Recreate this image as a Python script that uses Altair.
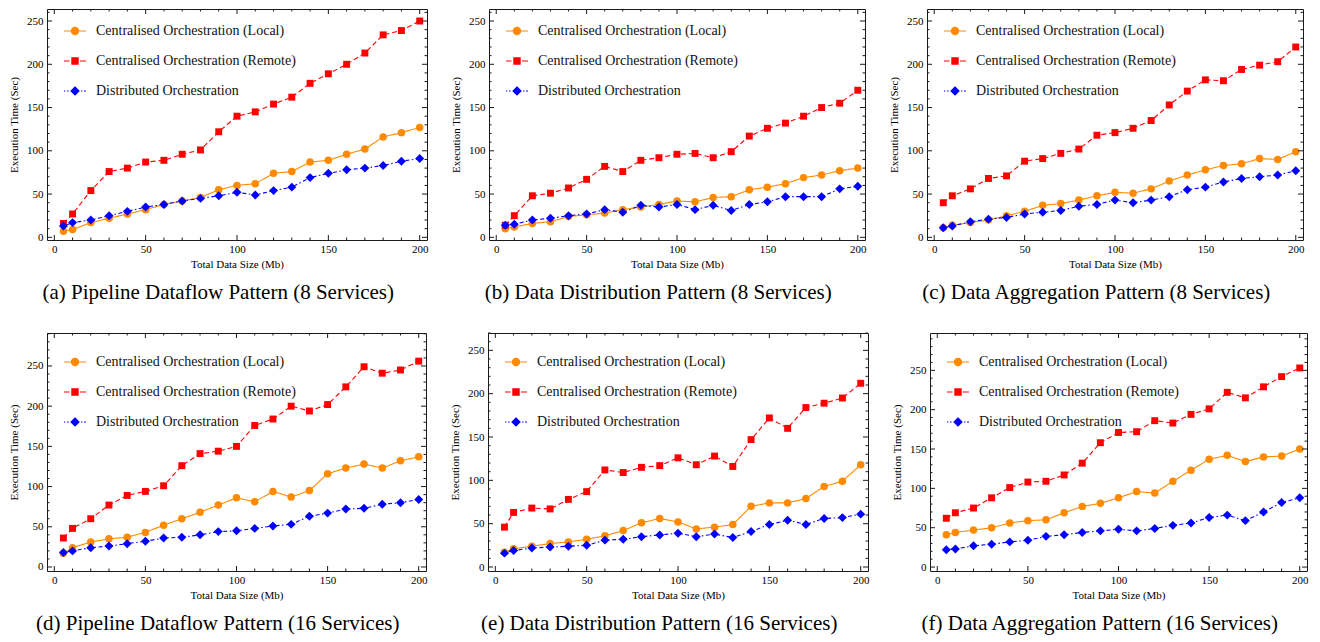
import altair as alt
import pandas as pd

X = [5, 10, 20, 30, 40, 50, 60, 70, 80, 90, 100, 110, 120, 130, 140, 150, 160, 170, 180, 190, 200]

SERIES = ["Centralised Orchestration (Local)", "Centralised Orchestration (Remote)", "Distributed Orchestration"]
COLORS = ["#FF8A00", "#FF0000", "#0000FF"]
DASHES = [[1, 0], [5, 3], [1.5, 2.5, 4, 2.5]]
SHAPES = ["circle", "square", "diamond"]
SIZES = [56, 48, 80]

# (a) Pipeline Dataflow Pattern (8 Services)
A_LOCAL = [7, 9, 17, 22, 27, 32, 38, 42, 46, 55, 60, 62, 74, 76, 87, 89, 96, 102, 116, 121, 127]
A_REMOTE = [16, 27, 54, 76, 80, 87, 89, 96, 101, 122, 140, 145, 154, 162, 178, 189, 200, 213, 234, 239, 250]
A_DIST = [13, 17, 20, 25, 30, 35, 38, 42, 45, 48, 52, 49, 54, 58, 69, 74, 78, 80, 83, 88, 91]
# (b) Data Distribution Pattern (8 Services)
B_LOCAL = [10, 12, 16, 18, 24, 26, 28, 32, 35, 38, 42, 41, 46, 47, 55, 58, 62, 69, 72, 77, 80]
B_REMOTE = [14, 25, 48, 51, 57, 67, 82, 76, 89, 92, 96, 97, 92, 99, 117, 126, 132, 140, 150, 155, 170]
B_DIST = [14, 15, 20, 22, 25, 27, 32, 29, 37, 35, 38, 32, 37, 31, 38, 41, 47, 47, 47, 56, 59]
# (c) Data Aggregation Pattern (8 Services)
C_LOCAL = [11, 14, 17, 20, 25, 30, 37, 39, 43, 48, 52, 51, 56, 65, 72, 78, 83, 85, 91, 90, 99]
C_REMOTE = [40, 48, 56, 68, 71, 88, 91, 97, 102, 118, 121, 126, 135, 153, 169, 182, 181, 194, 199, 203, 220]
C_DIST = [11, 13, 18, 21, 23, 27, 29, 31, 36, 38, 43, 40, 43, 47, 55, 58, 64, 68, 70, 72, 77]
# (d) Pipeline Dataflow Pattern (16 Services)
D_LOCAL = [17, 24, 31, 35, 37, 43, 52, 60, 68, 77, 86, 81, 94, 87, 95, 116, 123, 128, 123, 132, 137]
D_REMOTE = [36, 48, 60, 77, 89, 94, 101, 126, 141, 144, 150, 176, 184, 200, 194, 202, 224, 249, 241, 245, 256]
D_DIST = [18, 20, 24, 26, 29, 32, 36, 37, 40, 44, 45, 48, 51, 53, 63, 67, 72, 73, 78, 80, 84]
# (e) Data Distribution Pattern (16 Services)
E_LOCAL = [17, 21, 24, 27, 29, 32, 36, 42, 51, 56, 52, 44, 46, 49, 70, 74, 74, 79, 93, 99, 118]
E_REMOTE = [46, 63, 68, 67, 78, 87, 112, 109, 115, 117, 126, 118, 128, 116, 147, 172, 160, 184, 189, 195, 212]
E_DIST = [16, 19, 22, 23, 24, 25, 31, 32, 35, 37, 39, 35, 38, 34, 41, 49, 54, 49, 56, 57, 61]
# (f) Data Aggregation Pattern (16 Services)
F_LOCAL = [41, 44, 47, 50, 56, 59, 60, 69, 77, 81, 88, 96, 94, 109, 123, 137, 142, 134, 140, 141, 150]
F_REMOTE = [62, 69, 75, 88, 101, 108, 109, 117, 132, 158, 171, 172, 186, 183, 194, 201, 222, 215, 229, 242, 253]
F_DIST = [22, 23, 27, 29, 32, 34, 39, 41, 44, 46, 48, 46, 49, 53, 56, 63, 66, 59, 70, 82, 88]

CAPTIONS = [
    "(a) Pipeline Dataflow Pattern (8 Services)",
    "(b) Data Distribution Pattern (8 Services)",
    "(c) Data Aggregation Pattern (8 Services)",
    "(d) Pipeline Dataflow Pattern (16 Services)",
    "(e) Data Distribution Pattern (16 Services)",
    "(f) Data Aggregation Pattern (16 Services)",
]

X_MAJOR = [0, 50, 100, 150, 200]
X_MINOR = [v for v in range(0, 205, 10) if v % 50 != 0]
Y_MAJOR = [0, 50, 100, 150, 200, 250]
Y_MINOR = [v for v in range(0, 300, 10) if v % 50 != 0]

LEGEND_PATHS = [
    "M-1,0 L1,0 M-0.33,0 A0.33,0.33 0 1,0 0.33,0 A0.33,0.33 0 1,0 -0.33,0 Z",
    "M-1,0 L-0.5,0 M0.45,0 L1,0 M-0.28,-0.28 L0.28,-0.28 L0.28,0.28 L-0.28,0.28 Z",
    "M-1,0 L-0.88,0 M-0.72,0 L-0.58,0 M0.55,0 L0.68,0 M0.82,0 L1,0 M0,-0.36 L0.36,0 L0,0.36 L-0.36,0 Z",
]

FONT = "Liberation Serif"
INK = "#1a1a1a"


def panel(local, remote, dist, ydom, width, height, caption, legend_y):
    rows = []
    for s, vals in zip(SERIES, [local, remote, dist]):
        for xv, yv in zip(X, vals):
            rows.append({"x": xv, "y": yv, "series": s})
    df = pd.DataFrame(rows)
    base = alt.Chart(df)
    xs = alt.Scale(domain=[-4, 204], nice=False, zero=False)
    ys = alt.Scale(domain=ydom, nice=False, zero=False)
    ymaj = [v for v in Y_MAJOR if v <= ydom[1]]
    ymin = [v for v in Y_MINOR if v <= ydom[1]]

    layers = []
    for i, s in enumerate(SERIES):
        if i == 0:
            xa = alt.Axis(values=X_MAJOR, title="Total Data Size (Mb)", ticks=False, domain=False,
                          grid=False, labelPadding=3, titlePadding=4, format="d")
            ya = alt.Axis(values=ymaj, title="Execution Time (Sec)", ticks=False, domain=False,
                          grid=False, labelPadding=4, titlePadding=7, format="d")
        else:
            xa = None
            ya = None
        line = base.transform_filter(alt.datum.series == s).mark_line(
            color=COLORS[i], strokeWidth=1.1, strokeDash=DASHES[i]
        ).encode(
            x=alt.X("x:Q", scale=xs, axis=xa),
            y=alt.Y("y:Q", scale=ys, axis=ya),
        )
        layers.append(line)
    for i, s in enumerate(SERIES):
        pts = base.transform_filter(alt.datum.series == s).mark_point(
            filled=True, color=COLORS[i], shape=SHAPES[i], size=SIZES[i], opacity=1
        ).encode(
            x=alt.X("x:Q", scale=xs, axis=None),
            y=alt.Y("y:Q", scale=ys, axis=None),
        )
        layers.append(pts)

    # inward frame ticks on all four sides
    def xticks(values, length):
        d = alt.Chart(pd.DataFrame({"v": values}))
        bottom = d.mark_rule(color=INK, strokeWidth=1).encode(
            x=alt.X("v:Q", scale=xs, axis=None), y=alt.value(height), y2=alt.value(height - length))
        top = d.mark_rule(color=INK, strokeWidth=1).encode(
            x=alt.X("v:Q", scale=xs, axis=None), y=alt.value(0), y2=alt.value(length))
        return [bottom, top]

    def yticks(values, length):
        d = alt.Chart(pd.DataFrame({"v": values}))
        left = d.mark_rule(color=INK, strokeWidth=1).encode(
            y=alt.Y("v:Q", scale=ys, axis=None), x=alt.value(0), x2=alt.value(length))
        right = d.mark_rule(color=INK, strokeWidth=1).encode(
            y=alt.Y("v:Q", scale=ys, axis=None), x=alt.value(width), x2=alt.value(width - length))
        return [left, right]

    layers += xticks(X_MAJOR, 5) + xticks(X_MINOR, 2.5) + yticks(ymaj, 5) + yticks(ymin, 2.5)

    leg = alt.Legend(title=None, orient="none", legendX=16, legendY=legend_y, symbolSize=484,
                     symbolStrokeWidth=1.2, labelFont=FONT, labelFontSize=14, labelColor="#111",
                     rowPadding=11, labelOffset=9, symbolOpacity=1, padding=0, direction="vertical",
                     labelLimit=400)
    legend_layer = base.mark_point(opacity=0).encode(
        x=alt.X("x:Q", scale=xs, axis=None),
        y=alt.Y("y:Q", scale=ys, axis=None),
        fill=alt.Fill("series:N", scale=alt.Scale(domain=SERIES, range=COLORS), legend=leg),
        stroke=alt.Stroke("series:N", scale=alt.Scale(domain=SERIES, range=COLORS), legend=leg),
        shape=alt.Shape("series:N", scale=alt.Scale(domain=SERIES, range=LEGEND_PATHS), legend=leg),
    )
    layers.append(legend_layer)

    chart = alt.layer(*layers).resolve_axis(x="independent", y="independent").properties(
        width=width, height=height,
        title=alt.TitleParams(caption, orient="bottom", anchor="middle", frame="bounds", font=FONT,
                              fontSize=21, fontWeight="normal", color="#000", offset=13),
    )
    return chart


pa = panel(A_LOCAL, A_REMOTE, A_DIST, [-3.1, 263.9], 380, 231, CAPTIONS[0], 10)
pb = panel(B_LOCAL, B_REMOTE, B_DIST, [-3.1, 263.9], 376, 231, CAPTIONS[1], 10)
pc = panel(C_LOCAL, C_REMOTE, C_DIST, [-3.1, 263.9], 376, 231, CAPTIONS[2], 10)
pd_ = panel(D_LOCAL, D_REMOTE, D_DIST, [-5, 291], 379, 238, CAPTIONS[3], 17)
pe = panel(E_LOCAL, E_REMOTE, E_DIST, [-4.6, 270], 380, 238, CAPTIONS[4], 17)
pf = panel(F_LOCAL, F_REMOTE, F_DIST, [-5, 297.4], 377, 238, CAPTIONS[5], 17)

res = dict(fill="independent", stroke="independent", shape="independent")
row1 = alt.hconcat(pa, pb, pc, spacing=21).resolve_scale(**res)
row2 = alt.hconcat(pd_, pe, pf, spacing=21).resolve_scale(**res)

chart = alt.vconcat(row1, row2, spacing=28).resolve_scale(**res).properties(
    padding={"left": 0, "top": 0, "right": 0, "bottom": 0}
).configure(background="white").configure_view(
    stroke=INK, strokeWidth=1
).configure_axis(
    labelFont=FONT, labelFontSize=11, labelColor="#000", titleFont=FONT, titleFontSize=11,
    titleFontWeight="normal", titleColor="#000"
)

chart.save("out.html", embed_options={"renderer": "svg", "actions": False})
